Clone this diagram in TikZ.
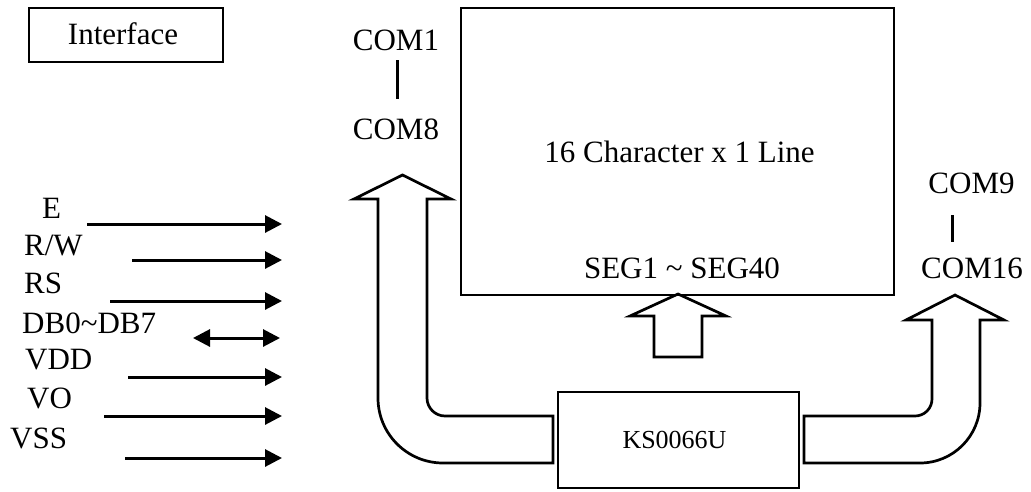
\documentclass[tikz,border=0pt]{standalone}
\usepackage{fontspec}
\setmainfont{Liberation Serif}
\usetikzlibrary{arrows.meta}
\begin{document}
\begin{tikzpicture}[x=1pt,y=-1pt,
  lbl/.style={inner sep=0pt, anchor=base, font=\fontsize{31}{36}\selectfont},
  lblw/.style={lbl, anchor=base west},
  boxn/.style={draw, line width=2.7pt, inner sep=0pt},
  sig/.style={line width=3pt, -{Triangle[length=17pt,width=17pt]}},
  bsig/.style={line width=3pt, {Triangle[length=17pt,width=17pt]}-{Triangle[length=17pt,width=17pt]}},
  blk/.style={draw, line width=2.7pt, line join=miter, fill=white},
  tick/.style={line width=3pt}]
\useasboundingbox (0,0) rectangle (1031,491);

% block arrows
\draw[blk] (553,416) -- (553,463) -- (443,463)
  .. controls (407.1,463) and (378,433.9) .. (378,398)
  -- (378,199) -- (354,199) -- (402.5,175) -- (451,199) -- (427,199) -- (427,398)
  .. controls (427,407.9) and (435.1,416) .. (445,416) -- cycle;
\draw[blk] (654,357) -- (654,316) -- (630,316) -- (678,294) -- (726,316) -- (702,316) -- (702,357) -- cycle;
\draw[blk] (804,416) -- (915,416)
  .. controls (924.4,416) and (932,408.4) .. (932,399)
  -- (932,320) -- (906,320) -- (955,295) -- (1004,320) -- (980,320) -- (980,403)
  .. controls (980,436.1) and (953.1,463) .. (920,463) -- (804,463) -- cycle;

% boxes
\node[boxn, minimum width=194pt, minimum height=54pt] (iface) at (126,35) {};
\node[lbl] (ifacet) at (123,44) {Interface};
\node[boxn, minimum width=433pt, minimum height=287pt] (lcd) at (677.5,151.5) {};
\node[lbl] (lcdt) at (679.5,162) {16 Character x 1 Line};
\node[lbl] (seg) at (682,278) {SEG1 \textasciitilde{} SEG40};
\node[boxn, minimum width=241pt, minimum height=96pt] (ks) at (678.5,440) {};
\node[lbl, font=\fontsize{26}{30}\selectfont] (kst) at (674.5,448) {KS0066U};

% COM labels
\node[lbl] (c1) at (396,50) {COM1};
\node[lbl] (c8) at (396,139) {COM8};
\coordinate (c1a) at (397,60);
\coordinate (c1b) at (397,99);
\draw[tick] (c1a) -- (c1b);
\node[lbl] (c9) at (971.5,193) {COM9};
\node[lbl] (c16) at (972,278) {COM16};
\coordinate (c9a) at (952,215);
\coordinate (c9b) at (952,242);
\draw[tick] (c9a) -- (c9b);

% interface signals
\node[lblw] (e) at (42,218) {E};
\node[lblw] (rw) at (24,255) {R/W};
\node[lblw] (rs) at (24,293) {RS};
\node[lblw] (db) at (22,333) {DB0\textasciitilde DB7};
\node[lblw] (vdd) at (25,369) {VDD};
\node[lblw] (vo) at (27,408) {VO};
\node[lblw] (vss) at (10,448) {VSS};

\coordinate (e1) at (87,224);   \coordinate (e2) at (282,224);
\coordinate (rw1) at (132,260); \coordinate (rw2) at (282,260);
\coordinate (rs1) at (110,301); \coordinate (rs2) at (282,301);
\coordinate (db1) at (193,338); \coordinate (db2) at (280,338);
\coordinate (vdd1) at (128,377);\coordinate (vdd2) at (282,377);
\coordinate (vo1) at (104,416); \coordinate (vo2) at (282,416);
\coordinate (vss1) at (125,458);\coordinate (vss2) at (282,458);

\draw[sig] (e1) -- (e2);
\draw[sig] (rw1) -- (rw2);
\draw[sig] (rs1) -- (rs2);
\draw[bsig] (db1) -- (db2);
\draw[sig] (vdd1) -- (vdd2);
\draw[sig] (vo1) -- (vo2);
\draw[sig] (vss1) -- (vss2);
\end{tikzpicture}
\end{document}
